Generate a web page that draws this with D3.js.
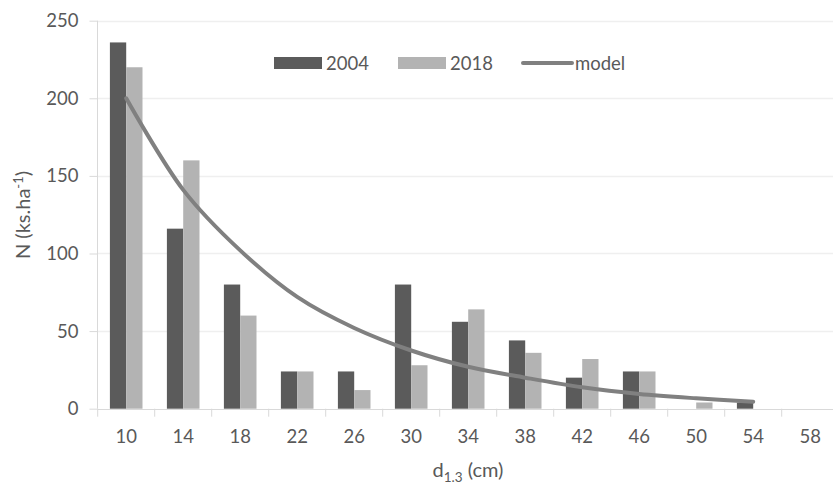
<!DOCTYPE html>
<html lang="en">
<head>
<meta charset="UTF-8">
<title>N by diameter class</title>
<script src="https://cdn.jsdelivr.net/npm/d3@7"></script>
<style>
  body { margin: 0; background: #fff; }
  text { font-family: Lato, "Open Sans", sans-serif; fill: #595959; }
</style>
</head>
<body>
<script>
// diameter classes (cm)
const categories = ['10', '14', '18', '22', '26', '30', '34', '38', '42', '46', '50', '54', '58'];
// stand density, trees per hectare
const values2004 = [236, 116, 80, 24, 24, 80, 56, 44, 20, 24, 0, 4, 0];
const values2018 = [220, 160, 60, 24, 12, 28, 64, 36, 32, 24, 4, 0, 0];
// model curve (10 .. 54)
const modelCats = ['10', '14', '18', '22', '26', '30', '34', '38', '42', '46', '50', '54'];
const modelValues = [200, 141, 102, 72, 52, 37.5, 27, 20, 13.8, 9.5, 6.7, 4.5];
const yTicks = [0, 50, 100, 150, 200, 250];

const width = 833, height = 485;
const svg = d3.select('body').append('svg').attr('width', width).attr('height', height);

const x = d3.scaleBand().domain(categories).range([97.7, 838.7]);
const x1 = d3.scaleBand().domain(['2004', '2018'])
    .range([(x.bandwidth() - 32.6) / 2, (x.bandwidth() + 32.6) / 2]);
const y = d3.scaleLinear().domain([0, 250]).range([408.7, 20.7]);

// gridlines
svg.append('g')
    .selectAll('line')
    .data(yTicks.slice(1))
    .join('line')
    .attr('x1', 97.7).attr('x2', width)
    .attr('y1', d => Math.round(y(d)) + 0.5).attr('y2', d => Math.round(y(d)) + 0.5)
    .attr('stroke', '#efefef').attr('stroke-width', 1.3);

// y axis
const yAxis = svg.append('g')
    .attr('transform', 'translate(97.5,0)')
    .call(d3.axisLeft(y).tickValues(yTicks).tickSize(8).tickPadding(11));
yAxis.select('.domain').attr('stroke', '#d9d9d9').attr('d', 'M0,' + y(250) + 'V' + y(0));
yAxis.selectAll('.tick line').attr('stroke', '#d9d9d9');
yAxis.selectAll('.tick text').style('font-size', '18.5px').attr('fill', '#595959');

// x axis
const xAxis = svg.append('g')
    .attr('transform', 'translate(0,' + (Math.round(y(0)) + 0.5) + ')')
    .call(d3.axisBottom(x).tickSize(0).tickPadding(20));
xAxis.select('.domain').attr('stroke', '#d9d9d9').attr('d', 'M97.7,0H' + width);
xAxis.selectAll('.tick text').style('font-size', '18.5px').attr('fill', '#595959');
svg.append('g')
    .selectAll('line')
    .data(categories)
    .join('line')
    .attr('x1', d => x(d)).attr('x2', d => x(d))
    .attr('y1', y(0)).attr('y2', y(0) + 8)
    .attr('stroke', '#d9d9d9');

// bars
const series = [
    { name: '2004', values: values2004, color: '#5b5b5b' },
    { name: '2018', values: values2018, color: '#b3b3b3' }
];
series.forEach(s => {
    svg.append('g')
        .selectAll('rect')
        .data(categories.map((c, i) => ({ c, v: s.values[i] })).filter(d => d.v > 0))
        .join('rect')
        .attr('x', d => x(d.c) + x1(s.name))
        .attr('width', x1.bandwidth())
        .attr('y', d => y(d.v))
        .attr('height', d => y(0) - y(d.v))
        .attr('fill', s.color);
});

// model line
const line = d3.line()
    .x((d, i) => x(modelCats[i]) + x.bandwidth() / 2)
    .y(d => y(d))
    .curve(d3.curveCatmullRom);
svg.append('path')
    .attr('d', line(modelValues))
    .attr('fill', 'none')
    .attr('stroke', '#808080')
    .attr('stroke-width', 4)
    .attr('stroke-linecap', 'round');

// legend
const legend = svg.append('g').style('font-size', '18.5px');
legend.append('rect').attr('x', 274).attr('y', 57).attr('width', 48).attr('height', 12).attr('fill', '#5b5b5b');
legend.append('text').attr('x', 326).attr('y', 70).text('2004');
legend.append('rect').attr('x', 398).attr('y', 57).attr('width', 48).attr('height', 12).attr('fill', '#b3b3b3');
legend.append('text').attr('x', 450).attr('y', 70).text('2018');
legend.append('line').attr('x1', 523).attr('x2', 572).attr('y1', 63).attr('y2', 63)
    .attr('stroke', '#808080').attr('stroke-width', 4).attr('stroke-linecap', 'round');
legend.append('text').attr('x', 575).attr('y', 70).text('model');

// axis titles
const xt = svg.append('text')
    .attr('x', 468).attr('y', 477)
    .attr('text-anchor', 'middle')
    .style('font-size', '20px');
xt.append('tspan').text('d');
xt.append('tspan').attr('dy', 5).style('font-size', '13.5px').text('1.3');
xt.append('tspan').attr('dy', -5).text(' (cm)');

const yt = svg.append('text')
    .attr('transform', 'translate(30,215) rotate(-90)')
    .attr('text-anchor', 'middle')
    .style('font-size', '20px');
yt.append('tspan').text('N (ks.ha');
yt.append('tspan').attr('dy', -7).style('font-size', '13px').text('-1');
yt.append('tspan').attr('dy', 7).text(')');
</script>
</body>
</html>
